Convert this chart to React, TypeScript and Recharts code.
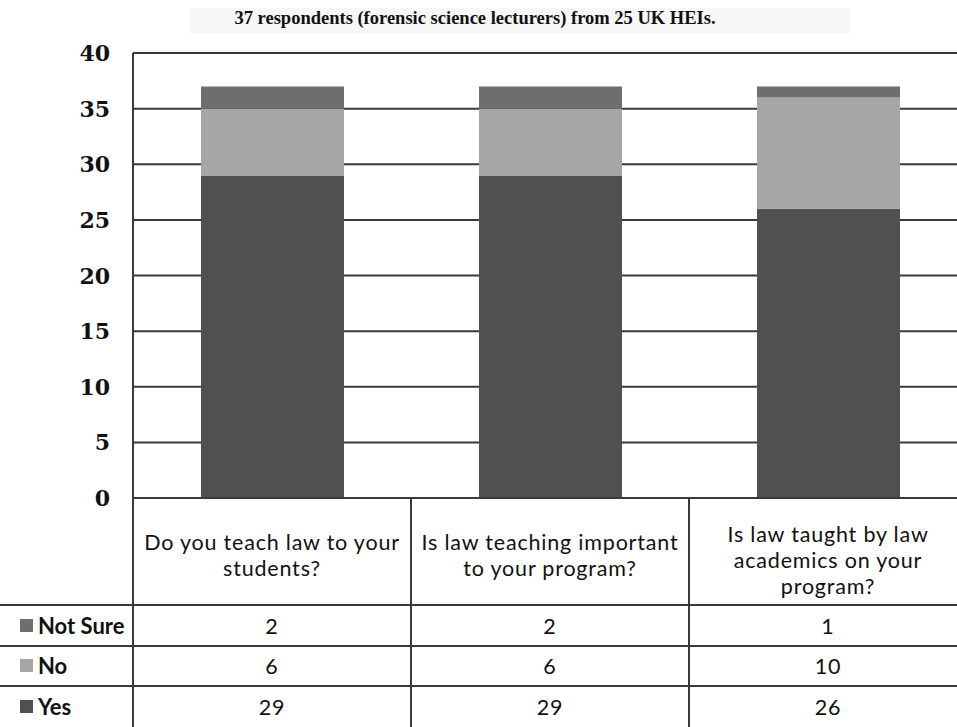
import { BarChart, Bar, XAxis, YAxis, CartesianGrid, Legend } from 'recharts';

const categories = [
    'Do you teach law to your\nstudents?',
    'Is law teaching important\nto your program?',
    'Is law taught by law\nacademics on your\nprogram?',
];
const yesValues = [29, 29, 26];
const noValues = [6, 6, 10];
const notSureValues = [2, 2, 1];
const yTicks = [0, 5, 10, 15, 20, 25, 30, 35, 40];
const legendOrder = ['notSure', 'no', 'yes'];
const title = '37 respondents (forensic science lecturers) from 25 UK HEIs.';

const data = categories.map((category, i) => ({
    category,
    yes: yesValues[i],
    no: noValues[i],
    notSure: notSureValues[i],
}));

const COLORS = { yes: '#505050', no: '#a6a6a6', notSure: '#6e6e6e' };
const LINE = '#3a3a3a';
const FONT = 'Lato, "Open Sans", sans-serif';

// table geometry
const PLOT_LEFT = 133;
const PLOT_BOTTOM = 498;
const BAND = 278;
const ROW_LINES = [605, 646, 686];
const ROW_CENTERS = [626, 666, 707];
const BOTTOM = 727;
const LINE_GAP = 26;

const cellText = { fontFamily: FONT, fontSize: 21.5, letterSpacing: 0.8, fill: '#111' };

function YTick({ y, payload }: any) {
    return (
        <text x={110} y={y} textAnchor="end" dominantBaseline="central"
            style={{ fontFamily: '"DejaVu Serif", serif', fontWeight: 700, fontSize: 22, fill: '#111' }}>
            {payload.value}
        </text>
    );
}

function TableTick({ x, index, payload }: any) {
    const colLeft = x - BAND / 2;
    const right = x + BAND / 2;
    const lineLeft = index === 0 ? 0 : colLeft;
    const lines = String(payload.value).split('\n');
    const c = 545 + 5 * lines.length;
    const row = data[index];
    const values = [row.notSure, row.no, row.yes];
    return (
        <g>
            {index === 0 && <line x1={colLeft} x2={colLeft} y1={PLOT_BOTTOM} y2={BOTTOM} stroke={LINE} strokeWidth={2} />}
            <line x1={right} x2={right} y1={PLOT_BOTTOM} y2={BOTTOM} stroke={LINE} strokeWidth={2} />
            {ROW_LINES.map((ly) => (
                <line key={ly} x1={lineLeft} x2={right} y1={ly} y2={ly} stroke={LINE} strokeWidth={2} />
            ))}
            {lines.map((t, i) => (
                <text key={i} x={x} y={c + (i - (lines.length - 1) / 2) * LINE_GAP} textAnchor="middle"
                    dominantBaseline="central" style={cellText}>
                    {t}
                </text>
            ))}
            {values.map((v, i) => (
                <text key={'v' + i} x={x} y={ROW_CENTERS[i]} textAnchor="middle" dominantBaseline="central" style={cellText}>
                    {v}
                </text>
            ))}
        </g>
    );
}

function LegendRows({ payload }: any) {
    const items = [...(payload || [])].sort(
        (a: any, b: any) => legendOrder.indexOf(a.dataKey) - legendOrder.indexOf(b.dataKey)
    );
    return (
        <div style={{ width: PLOT_LEFT }}>
            {items.map((it: any, i: number) => (
                <div key={i} style={{ height: i === 2 ? 41 : 40.5, display: 'flex', alignItems: 'center', paddingLeft: 20, fontFamily: FONT, fontSize: 22, fontWeight: 700, color: '#111', whiteSpace: 'nowrap' }}>
                    <span style={{ width: 13, height: 13, background: it.color, marginRight: 5, display: 'inline-block' }} />
                    {it.value}
                </div>
            ))}
        </div>
    );
}

export default function App() {
    return (
        <div style={{ position: 'absolute', left: 0, top: 0, width: 957, height: 727, overflow: 'hidden', background: '#fff' }}>
            <div style={{ position: 'absolute', left: 190, top: 8, width: 660, height: 25, background: '#f7f7f7' }} />
            <div style={{ position: 'absolute', left: 0, top: 8, width: 950, textAlign: 'center', fontFamily: '"Liberation Serif", serif', fontWeight: 700, fontSize: 18.5, color: '#111' }}>
                {title}
            </div>
            <BarChart width={967} height={727} data={data} margin={{ top: 53, right: 0, bottom: 0, left: 0 }} barSize={143}>
                <CartesianGrid vertical={false} stroke={LINE} strokeWidth={2} />
                <XAxis dataKey="category" height={BOTTOM - PLOT_BOTTOM} interval={0} tickLine={false}
                    axisLine={{ stroke: LINE, strokeWidth: 2 }} tick={<TableTick />} />
                <YAxis width={PLOT_LEFT} domain={[0, 40]} ticks={yTicks} tickLine={false}
                    axisLine={{ stroke: LINE, strokeWidth: 2 }} tick={<YTick />} />
                <Legend layout="vertical" align="center" verticalAlign="middle" content={<LegendRows />}
                    wrapperStyle={{ position: 'absolute', left: 0, top: 605, width: PLOT_LEFT }} />
                <Bar dataKey="yes" name="Yes" stackId="a" fill={COLORS.yes} isAnimationActive={false} />
                <Bar dataKey="no" name="No" stackId="a" fill={COLORS.no} isAnimationActive={false} />
                <Bar dataKey="notSure" name="Not Sure" stackId="a" fill={COLORS.notSure} isAnimationActive={false} />
            </BarChart>
        </div>
    );
}
